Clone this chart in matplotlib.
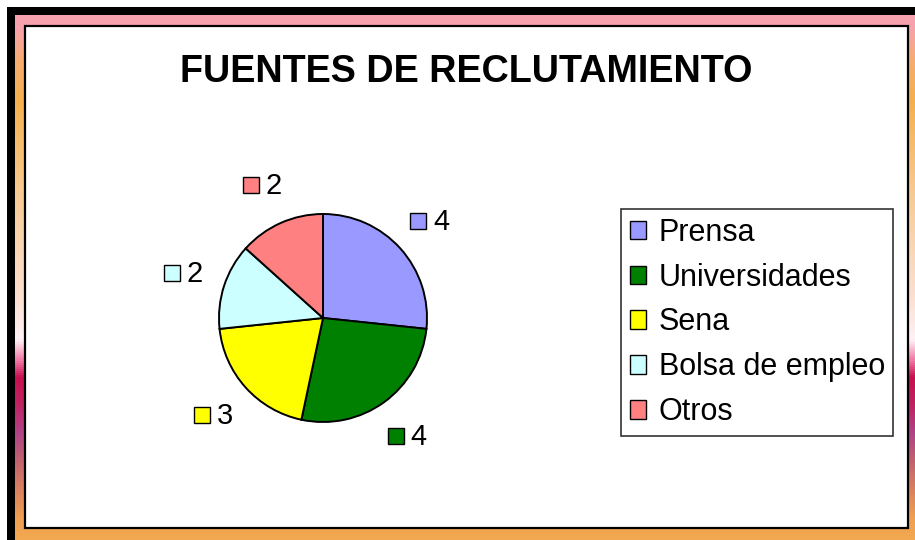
import matplotlib
matplotlib.use("Agg")
import matplotlib.pyplot as plt
import matplotlib.transforms as mtransforms
import numpy as np
from matplotlib.patches import Rectangle, Patch
from matplotlib.colors import LinearSegmentedColormap

plt.rcParams['font.family'] = ['Liberation Sans', 'DejaVu Sans']

categories = ["Prensa", "Universidades", "Sena", "Bolsa de empleo", "Otros"]
values = [4, 4, 3, 2, 2]
colors = ["#9999FF", "#008000", "#FFFF00", "#CCFFFF", "#FF8080"]
title = "FUENTES DE RECLUTAMIENTO"

W, H = 915, 540
fig = plt.figure(figsize=(W / 100, H / 100), dpi=100)

# background gradient frame (pixel coordinates)
bg = fig.add_axes([0, 0, 1, 1])
bg.set_xlim(0, W)
bg.set_ylim(H, 0)
bg.axis("off")
stops = [(0, "#F8A0B4"), (25, "#F8A2AE"), (60, "#F6AC70"), (100, "#F5B04C"),
         (200, "#F8CC98"), (300, "#FCE0D2"), (340, "#FFF2F6"), (362, "#F070A0"),
         (378, "#C8104F"), (405, "#C02262"), (435, "#B04488"), (460, "#C06070"),
         (490, "#D88060"), (520, "#F0A050"), (540, "#F2A850")]
cmap = LinearSegmentedColormap.from_list("frame", [(p / H, c) for p, c in stops])
grad = np.linspace(0, 1, 540).reshape(-1, 1)
bg.imshow(grad, cmap=cmap, aspect="auto", extent=[0, W, H, 0], vmin=0, vmax=1, zorder=0)
bg.add_patch(Rectangle((0, 0), W, 7, facecolor="white", edgecolor="none", zorder=1))
bg.add_patch(Rectangle((0, 0), 7, H, facecolor="white", edgecolor="none", zorder=1))
bg.add_patch(Rectangle((7, 7), W - 7, 8, facecolor="black", edgecolor="none", zorder=2))
bg.add_patch(Rectangle((7, 7), 8, H - 7, facecolor="black", edgecolor="none", zorder=2))
bg.add_patch(Rectangle((25, 26), 883, 502, facecolor="white", edgecolor="black",
                       linewidth=1.6, zorder=3))

fig.text(466 / W, 1 - 72 / H, title, fontsize=27.2, fontweight="bold",
         ha="center", va="center")

# pie
cx, cy, r = 323, 318, 104
ax = fig.add_axes([(cx - r) / W, (H - cy - r) / H, 2 * r / W, 2 * r / H])
wedges, _ = ax.pie(values, colors=colors, startangle=90, counterclock=False,
                   wedgeprops=dict(edgecolor="black", linewidth=1.4))
ax.set_xlim(-1, 1)
ax.set_ylim(-1, 1)
ax.set_aspect("equal")
ax.axis("off")

total = sum(values)
ang = 90.0
shift = mtransforms.ScaledTranslation(-13 / 100, 0, fig.dpi_scale_trans)
for v, c in zip(values, colors):
    span = 360.0 * v / total
    mid = np.deg2rad(ang - span / 2)
    ang -= span
    x, y = 1.40 * np.cos(mid), 1.40 * np.sin(mid)
    ax.plot([x], [y], marker="s", markersize=11.5, markerfacecolor=c,
            markeredgecolor="black", markeredgewidth=1.0, clip_on=False,
            transform=ax.transData + shift)
    ax.annotate(str(v), xy=(x, y), xytext=(2, -1), textcoords="offset pixels",
                fontsize=21, ha="left", va="center", annotation_clip=False)

handles = [Patch(facecolor=c, edgecolor="black", linewidth=1.0) for c in colors]
leg = fig.legend(handles, categories, loc="upper left",
                 bbox_to_anchor=(621 / W, 1 - 209 / H), fontsize=22,
                 frameon=True, fancybox=False, shadow=False,
                 handlelength=0.55, handleheight=0.55, handletextpad=0.4,
                 labelspacing=0.49, borderpad=0.28, borderaxespad=0)
leg.get_frame().set_edgecolor("black")
leg.get_frame().set_linewidth(1.2)

fig.savefig("out.png", dpi=100)
